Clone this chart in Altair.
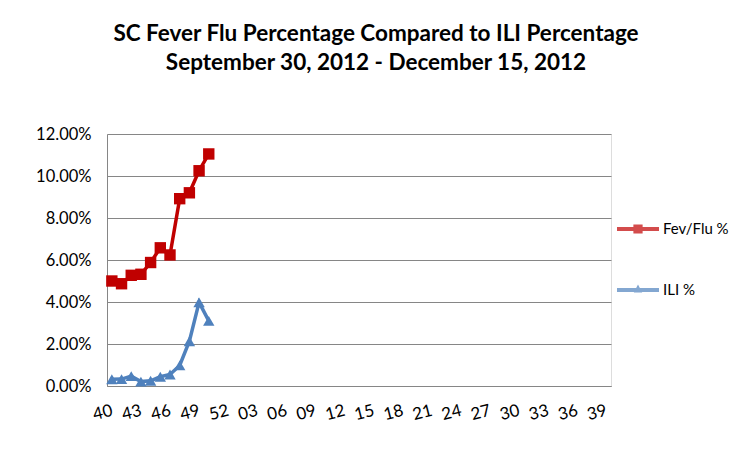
import altair as alt
import pandas as pd

weeks = [str(w) for w in range(40, 53)] + [f"{w:02d}" for w in range(1, 40)]
axis_weeks = weeks[::3]
series_names = ["Fev/Flu %", "ILI %"]
data_weeks = weeks[:11]
fev_flu = [5.00, 4.87, 5.27, 5.32, 5.88, 6.58, 6.24, 8.92, 9.20, 10.25, 11.05]
ili = [0.32, 0.33, 0.47, 0.21, 0.25, 0.44, 0.55, 0.98, 2.13, 3.98, 3.10]
y_ticks = [0, 0.02, 0.04, 0.06, 0.08, 0.10, 0.12]
colors = ["#C00000", "#4F81BD"]

rows = []
for w, v in zip(data_weeks, fev_flu):
    rows.append({"week": w, "series": series_names[0], "value": v / 100})
for w, v in zip(data_weeks, ili):
    rows.append({"week": w, "series": series_names[1], "value": v / 100})
df = pd.DataFrame(rows)
df["lseries"] = df["series"]

FONT = "Lato"

x_enc = alt.X("week:O", sort=weeks,
              scale=alt.Scale(domain=weeks),
              axis=alt.Axis(values=axis_weeks, title=None, labelAngle=-14,
                            labelFontSize=17, labelFont=FONT, labelColor="#000000",
                            ticks=False, grid=False, domainColor="#868686",
                            labelPadding=24, labelAlign="right", labelBaseline="middle"))
y_enc = alt.Y("value:Q",
              scale=alt.Scale(domain=[0, 0.12]),
              axis=alt.Axis(values=y_ticks, format=".2%", title=None,
                            labelFontSize=16.5, labelFont=FONT, labelColor="#000000",
                            ticks=False, gridColor="#868686", domainColor="#868686",
                            labelPadding=16))

color_scale = alt.Scale(domain=series_names, range=colors)
base = alt.Chart(df)

lines = base.mark_line(strokeWidth=3.5).encode(
    x=x_enc, y=y_enc,
    color=alt.Color("series:N", scale=color_scale, legend=None),
    detail="series:N",
)
points = base.mark_point(filled=True, opacity=1, size=130).encode(
    x=x_enc, y=y_enc,
    color=alt.Color("series:N", scale=color_scale, legend=None),
    shape=alt.Shape("series:N", scale=alt.Scale(domain=series_names,
                                                range=["square", "triangle-up"]),
                    legend=None),
)

sq_path = "M-1,-0.095H1V0.095H-1Z M-0.22,-0.22H0.22V0.22H-0.22Z"
tri_path = "M-1,-0.095H1V0.095H-1Z M0,-0.26L0.2,0.12H-0.2Z"

leg = alt.Legend(title=None, orient="none", legendX=510, legendY=74,
                 symbolSize=1764, labelFont=FONT, labelFontSize=15,
                 labelColor="#000000", labelOffset=4, rowPadding=32,
                 padding=0, symbolStrokeWidth=0)

legend_layer = base.transform_filter("datum.value < 0").mark_point(
    filled=True, size=1764).encode(
    x=x_enc, y=y_enc,
    color=alt.Color("lseries:N", scale=alt.Scale(domain=series_names, range=colors),
                    legend=leg),
    shape=alt.Shape("lseries:N", scale=alt.Scale(domain=series_names,
                                                 range=[sq_path, tri_path]),
                    legend=leg),
)

chart = alt.layer(lines, points, legend_layer).resolve_scale(
    color="independent", shape="independent"
).properties(
    width=504, height=252,
    title=alt.TitleParams(
        text=["SC Fever Flu Percentage Compared to ILI Percentage",
              "September 30, 2012 - December 15, 2012"],
        font=FONT, fontSize=22.5, fontWeight="bold", color="#000000",
        anchor="middle", dx=17, offset=52, lineHeight=29),
    autosize=alt.AutoSizeParams(type="none"),
    padding={"left": 99, "top": 126, "right": 133, "bottom": 58},
).configure_view(stroke="#000000", strokeWidth=1).configure(background="#ffffff")

chart.save("out.html", embed_options={"renderer": "svg", "actions": False})
